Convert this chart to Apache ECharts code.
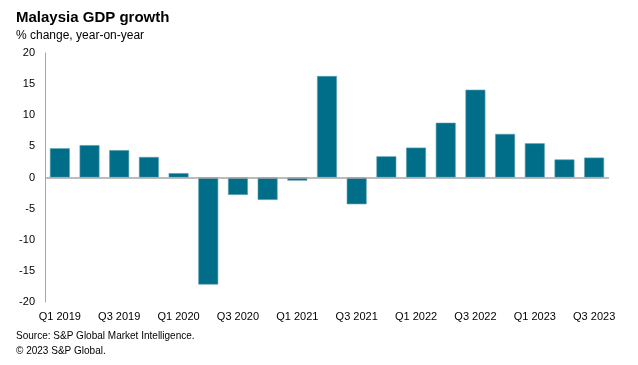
<!DOCTYPE html>
<html>
<head>
<meta charset="utf-8">
<script src="https://cdn.jsdelivr.net/npm/echarts@6/dist/echarts.min.js"></script>
<style>
html,body{margin:0;padding:0;background:#fff;}
#c{width:638px;height:365px;}
</style>
</head>
<body>
<div id="c"></div>
<script>
var categories = ["Q1 2019","Q2 2019","Q3 2019","Q4 2019","Q1 2020","Q2 2020","Q3 2020","Q4 2020","Q1 2021","Q2 2021","Q3 2021","Q4 2021","Q1 2022","Q2 2022","Q3 2022","Q4 2022","Q1 2023","Q2 2023","Q3 2023"];
var gdpGrowth = [4.7, 5.2, 4.4, 3.3, 0.7, -17.2, -2.8, -3.6, -0.5, 16.3, -4.3, 3.4, 4.8, 8.8, 14.1, 7.0, 5.5, 2.9, 3.2];
var yTicks = {min: -20, max: 20, interval: 5};

var chart = echarts.init(document.getElementById('c'), null, {renderer: 'canvas'});
var font = 'Arial, "Liberation Sans", sans-serif';
chart.setOption({
  animation: false,
  backgroundColor: '#ffffff',
  title: [
    {text: 'Malaysia GDP growth', left: 16, top: 10, padding: 0,
     textStyle: {fontFamily: font, fontSize: 15, fontWeight: 'bold', color: '#000'}},
    {text: '% change, year-on-year', left: 16, top: 30, padding: 0,
     textStyle: {fontFamily: font, fontSize: 12, fontWeight: 'normal', color: '#000'}}
  ],
  graphic: [
    {type: 'text', left: 16, top: 330, scaleX: 0.91,
     style: {text: 'Source: S&P Global Market Intelligence.', font: '11px Arial, "Liberation Sans", sans-serif', fill: '#000'}},
    {type: 'text', left: 16, top: 345, scaleX: 0.91,
     style: {text: '\u00A9 2023 S&P Global.', font: '11px Arial, "Liberation Sans", sans-serif', fill: '#000'}}
  ],
  grid: {left: 45, right: 29, top: 53, bottom: 63, containLabel: false},
  xAxis: {
    type: 'category',
    data: categories,
    axisLine: {show: false, onZero: false},
    axisTick: {show: false},
    axisLabel: {interval: 1, color: '#000', fontFamily: font, fontSize: 11, margin: 9}
  },
  yAxis: {
    type: 'value',
    min: yTicks.min, max: yTicks.max, interval: yTicks.interval,
    axisLine: {show: true, lineStyle: {color: '#a6a6a6', width: 1}},
    axisTick: {show: false},
    splitLine: {show: false},
    axisLabel: {color: '#000', fontFamily: font, fontSize: 11, margin: 10}
  },
  series: [{
    type: 'bar',
    data: gdpGrowth,
    barCategoryGap: '33%',
    itemStyle: {color: '#006e89', borderColor: '#5e9fb2', borderWidth: 0.6},
    markLine: {
      silent: true,
      symbol: 'none',
      label: {show: false},
      lineStyle: {color: '#a6a6a6', width: 1.5, type: 'solid'},
      data: [{yAxis: 0}]
    }
  }]
});
</script>
</body>
</html>
